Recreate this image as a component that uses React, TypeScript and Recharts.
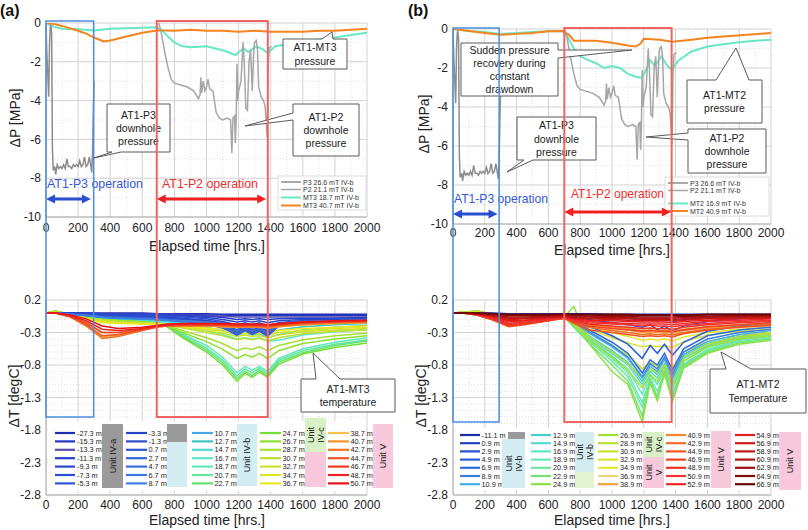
import React from 'react';
import { LineChart, Line, XAxis, YAxis, CartesianGrid, ReferenceLine } from 'recharts';

// ---- axes ----
const xMajor = [0, 200, 400, 600, 800, 1000, 1200, 1400, 1600, 1800, 2000];
const xMinor = [100, 300, 500, 700, 900, 1100, 1300, 1500, 1700, 1900];
const pTicks = [-10, -8, -6, -4, -2, 0];
const pMinor = [-9, -7, -5, -3, -1];
const tTicks = [-2.8, -2.3, -1.8, -1.3, -0.8, -0.3, 0.2];
const tMinor = [
  -2.7, -2.6, -2.5, -2.4, -2.2, -2.1, -2.0, -1.9, -1.7, -1.6, -1.5, -1.4, -1.2, -1.1, -1.0, -0.9,
  -0.7, -0.6, -0.5, -0.4, -0.2, -0.1, 0, 0.1,
];

// ---- pressure (MPa) ----
const p3Time = [0, 5, 17, 22, 27, 30, 35, 40, 45, 55, 60, 70, 80, 90, 100, 110, 120, 130, 140, 150, 160, 170, 180, 190, 200, 210, 220, 230, 240, 250, 260, 270, 280, 285, 290, 295, 300];
const p3Val = [0, -1.5, -3.8, -1.0, -0.2, -0.1, -0.5, -6.5, -7.6, -7.4, -7.8, -7.3, -7.5, -7.4, -7.5, -7.3, -7.5, -7.0, -7.4, -7.4, -7.5, -7.3, -7.4, -7.3, -7.4, -7.1, -7.4, -7.3, -6.9, -7.4, -7.3, -6.9, -7.4, -7.7, -6.7, -4.5, -3.0];
const p2Time = [700, 710, 720, 740, 760, 780, 800, 840, 880, 920, 950, 960, 965, 970, 980, 990, 1000, 1010, 1020, 1040, 1060, 1080, 1100, 1130, 1150, 1158, 1165, 1175, 1180, 1185, 1190, 1195, 1200, 1215, 1228, 1235, 1245, 1255, 1265, 1275, 1285, 1295, 1300, 1310, 1318, 1325, 1340, 1355, 1365, 1378, 1383, 1390, 1405];
const p2Val = [0, -0.2, -0.6, -1.5, -2.3, -2.9, -3.1, -3.2, -3.3, -3.5, -3.9, -3.7, -2.8, -3.6, -3.0, -3.5, -3.3, -2.9, -3.4, -3.5, -4.6, -4.9, -5.0, -4.9, -5.0, -6.7, -4.9, -4.8, -6.2, -4.9, -2.1, -4.0, -3.5, -3.0, -1.0, -2.0, -4.4, -4.5, -2.0, -1.4, -3.5, -1.3, -1.0, -0.9, -1.4, -3.3, -3.8, -4.0, -4.3, -5.9, -2.5, -1.3, -1.2];
const mt3LowTime = [0, 50, 100, 200, 300, 400, 500, 600, 690, 720, 760, 800, 850, 900, 1000, 1100, 1180, 1230, 1260, 1310, 1350, 1380, 1430, 1500, 1600, 1700, 1800, 1900, 2000];
const mt3LowVal = [0, -0.2, -0.3, -0.32, -0.38, -0.3, -0.27, -0.24, -0.22, -0.35, -0.7, -1.0, -1.2, -1.25, -1.2, -1.4, -1.65, -1.3, -1.5, -1.2, -1.35, -1.55, -1.2, -1.1, -0.95, -0.85, -0.75, -0.62, -0.5];
const mt3HighTime = [0, 50, 100, 200, 250, 300, 360, 400, 450, 500, 600, 700, 800, 900, 1000, 1100, 1200, 1300, 1400, 1500, 1600, 1700, 1800, 1900, 2000];
const mt3HighVal = [0, -0.05, -0.15, -0.4, -0.55, -0.75, -0.95, -0.9, -0.8, -0.7, -0.5, -0.38, -0.4, -0.35, -0.4, -0.4, -0.45, -0.4, -0.45, -0.45, -0.45, -0.4, -0.4, -0.35, -0.3];
const mt2LowTime = [0, 100, 200, 300, 400, 500, 600, 690, 720, 760, 800, 850, 900, 950, 1000, 1050, 1100, 1150, 1190, 1220, 1240, 1270, 1310, 1340, 1375, 1420, 1500, 1600, 1700, 1800, 1900, 2000];
const mt2LowVal = [0, -0.1, -0.15, -0.25, -0.2, -0.15, -0.12, -0.1, -0.4, -1.0, -1.4, -1.6, -1.75, -2.0, -1.9, -2.0, -2.3, -2.45, -2.5, -2.0, -1.6, -1.9, -1.4, -1.8, -2.1, -1.6, -1.15, -0.9, -0.78, -0.68, -0.6, -0.55];
const mt2HighTime = [0, 100, 200, 300, 400, 500, 600, 690, 730, 760, 900, 1000, 1100, 1150, 1180, 1200, 1300, 1380, 1500, 1600, 1700, 1850, 2000];
const mt2HighVal = [0, -0.1, -0.2, -0.3, -0.25, -0.2, -0.12, -0.1, -0.3, -0.6, -0.6, -0.7, -0.85, -0.9, -0.75, -0.5, -0.55, -0.65, -0.55, -0.45, -0.38, -0.3, -0.2];

// ---- temperature (degC) ----
const tempHours = [0, 60, 150, 250, 350, 450, 600, 700, 760, 850, 1000, 1100, 1190, 1240, 1285, 1330, 1380, 1450, 1600, 1800, 2000];

// AT1-MT3
const depthA1 = ['-27.3 m', '-15.3 m', '-13.3 m', '-11.3 m', '-9.3 m', '-7.3 m', '-5.3 m'];
const tempA1 = [
  [0, 0, 0, 0, 0, 0, 0, -0.01, -0.01, -0.01, -0.01, -0.02, -0.02, -0.02, -0.02, -0.02, -0.02, -0.02, -0.02, -0.02, -0.02],
  [0, 0, 0, 0, -0.01, -0.01, -0.01, -0.01, -0.02, -0.02, -0.03, -0.03, -0.04, -0.04, -0.04, -0.04, -0.04, -0.04, -0.04, -0.04, -0.04],
  [0, 0, 0, -0.01, -0.01, -0.02, -0.02, -0.02, -0.02, -0.03, -0.04, -0.05, -0.06, -0.06, -0.06, -0.06, -0.06, -0.06, -0.06, -0.06, -0.06],
  [0, 0, 0, -0.01, -0.02, -0.02, -0.02, -0.03, -0.03, -0.04, -0.05, -0.07, -0.1, -0.09, -0.1, -0.09, -0.1, -0.09, -0.08, -0.08, -0.07],
  [0, 0, -0.01, -0.01, -0.02, -0.03, -0.03, -0.03, -0.04, -0.05, -0.07, -0.1, -0.14, -0.12, -0.14, -0.12, -0.15, -0.12, -0.1, -0.09, -0.08],
  [0, 0, -0.01, -0.02, -0.03, -0.03, -0.04, -0.04, -0.05, -0.06, -0.09, -0.13, -0.18, -0.15, -0.18, -0.15, -0.2, -0.15, -0.12, -0.1, -0.09],
  [0, 0, -0.01, -0.02, -0.03, -0.04, -0.04, -0.05, -0.06, -0.08, -0.11, -0.15, -0.22, -0.18, -0.22, -0.18, -0.24, -0.17, -0.13, -0.11, -0.1],
];
const depthA2 = ['-3.3 m', '-1.3 m', '0.7 m', '2.7 m', '4.7 m', '6.7 m', '8.7 m'];
const tempA2 = [
  [0, 0, -0.01, -0.02, -0.03, -0.04, -0.05, -0.06, -0.07, -0.09, -0.12, -0.17, -0.26, -0.21, -0.26, -0.22, -0.28, -0.16, -0.12, -0.1, -0.09],
  [0, 0, -0.01, -0.02, -0.04, -0.05, -0.06, -0.07, -0.08, -0.1, -0.14, -0.2, -0.3, -0.24, -0.3, -0.25, -0.32, -0.18, -0.13, -0.11, -0.1],
  [0, 0, -0.02, -0.03, -0.05, -0.06, -0.07, -0.08, -0.09, -0.11, -0.16, -0.22, -0.34, -0.27, -0.33, -0.28, -0.36, -0.2, -0.14, -0.12, -0.1],
  [0, 0, -0.02, -0.04, -0.06, -0.07, -0.08, -0.09, -0.1, -0.12, -0.17, -0.23, -0.32, -0.26, -0.32, -0.27, -0.34, -0.2, -0.15, -0.12, -0.11],
  [0, 0, -0.02, -0.04, -0.06, -0.07, -0.09, -0.1, -0.11, -0.13, -0.16, -0.2, -0.27, -0.23, -0.27, -0.24, -0.3, -0.19, -0.15, -0.13, -0.12],
  [0, 0, -0.02, -0.04, -0.06, -0.08, -0.09, -0.1, -0.11, -0.12, -0.15, -0.18, -0.22, -0.2, -0.23, -0.2, -0.25, -0.17, -0.14, -0.12, -0.11],
  [0, 0, -0.02, -0.04, -0.07, -0.08, -0.09, -0.1, -0.11, -0.12, -0.14, -0.16, -0.2, -0.18, -0.2, -0.18, -0.22, -0.16, -0.13, -0.12, -0.11],
];
const depthA3 = ['10.7 m', '12.7 m', '14.7 m', '16.7 m', '18.7 m', '20.7 m', '22.7 m'];
const tempA3 = [
  [0, 0, -0.02, -0.05, -0.07, -0.08, -0.1, -0.11, -0.12, -0.13, -0.15, -0.18, -0.23, -0.21, -0.23, -0.21, -0.26, -0.2, -0.17, -0.15, -0.14],
  [0, 0.01, -0.02, -0.05, -0.08, -0.1, -0.11, -0.12, -0.13, -0.15, -0.18, -0.22, -0.28, -0.26, -0.28, -0.26, -0.32, -0.26, -0.21, -0.18, -0.16],
  [0, 0.01, -0.03, -0.06, -0.09, -0.11, -0.12, -0.13, -0.14, -0.17, -0.22, -0.27, -0.34, -0.31, -0.34, -0.32, -0.38, -0.33, -0.26, -0.22, -0.19],
  [0, 0.02, -0.03, -0.07, -0.1, -0.12, -0.13, -0.14, -0.16, -0.2, -0.27, -0.33, -0.4, -0.38, -0.4, -0.38, -0.43, -0.42, -0.34, -0.29, -0.25],
  [0, 0.02, -0.03, -0.07, -0.1, -0.12, -0.14, -0.15, -0.19, -0.32, -0.5, -0.68, -0.92, -0.82, -0.88, -0.82, -0.9, -0.7, -0.55, -0.45, -0.38],
  [0, 0.03, -0.03, -0.07, -0.1, -0.12, -0.14, -0.15, -0.2, -0.34, -0.54, -0.72, -0.97, -0.86, -0.92, -0.85, -0.94, -0.73, -0.58, -0.48, -0.41],
  [0, 0.03, -0.03, -0.07, -0.1, -0.12, -0.14, -0.16, -0.21, -0.36, -0.57, -0.76, -1.01, -0.9, -0.96, -0.88, -0.97, -0.76, -0.61, -0.5, -0.43],
];
const depthA4 = ['24.7 m', '26.7 m', '28.7 m', '30.7 m', '32.7 m', '34.7 m', '36.7 m'];
const tempA4 = [
  [0, 0.03, -0.03, -0.07, -0.1, -0.12, -0.14, -0.16, -0.22, -0.38, -0.6, -0.8, -1.05, -0.93, -0.99, -0.91, -0.99, -0.79, -0.63, -0.53, -0.46],
  [0, 0.03, -0.02, -0.07, -0.1, -0.12, -0.14, -0.16, -0.21, -0.3, -0.44, -0.56, -0.7, -0.64, -0.68, -0.62, -0.7, -0.58, -0.47, -0.4, -0.35],
  [0, 0.02, -0.02, -0.07, -0.1, -0.12, -0.14, -0.16, -0.2, -0.27, -0.38, -0.47, -0.58, -0.54, -0.56, -0.52, -0.58, -0.5, -0.41, -0.35, -0.31],
  [0, 0.02, -0.03, -0.08, -0.11, -0.13, -0.15, -0.16, -0.19, -0.23, -0.3, -0.35, -0.41, -0.39, -0.41, -0.39, -0.43, -0.38, -0.32, -0.28, -0.26],
  [0, 0.02, -0.03, -0.08, -0.12, -0.14, -0.16, -0.17, -0.19, -0.22, -0.27, -0.31, -0.36, -0.34, -0.36, -0.35, -0.38, -0.34, -0.29, -0.26, -0.24],
  [0, 0.01, -0.04, -0.09, -0.13, -0.15, -0.16, -0.17, -0.18, -0.21, -0.25, -0.28, -0.32, -0.31, -0.32, -0.31, -0.34, -0.3, -0.27, -0.24, -0.22],
  [0, 0.01, -0.04, -0.1, -0.15, -0.16, -0.17, -0.17, -0.18, -0.2, -0.23, -0.25, -0.28, -0.27, -0.28, -0.28, -0.3, -0.27, -0.24, -0.22, -0.2],
];
const depthA5 = ['38.7 m', '40.7 m', '42.7 m', '44.7 m', '46.7 m', '48.7 m', '50.7 m'];
const tempA5 = [
  [0, 0, -0.05, -0.15, -0.3, -0.3, -0.24, -0.2, -0.19, -0.19, -0.2, -0.21, -0.22, -0.22, -0.22, -0.22, -0.23, -0.21, -0.18, -0.16, -0.15],
  [0, 0, -0.06, -0.18, -0.36, -0.34, -0.26, -0.21, -0.2, -0.2, -0.2, -0.21, -0.22, -0.22, -0.22, -0.22, -0.23, -0.21, -0.18, -0.16, -0.15],
  [0, 0, -0.06, -0.2, -0.39, -0.36, -0.27, -0.21, -0.2, -0.2, -0.2, -0.2, -0.21, -0.21, -0.21, -0.21, -0.22, -0.2, -0.17, -0.15, -0.14],
  [0, 0, -0.06, -0.18, -0.35, -0.33, -0.26, -0.21, -0.2, -0.19, -0.19, -0.19, -0.2, -0.2, -0.2, -0.2, -0.21, -0.19, -0.16, -0.14, -0.13],
  [0, 0, -0.05, -0.15, -0.3, -0.3, -0.25, -0.2, -0.19, -0.18, -0.18, -0.18, -0.19, -0.19, -0.19, -0.19, -0.2, -0.18, -0.15, -0.13, -0.12],
  [0, 0, -0.04, -0.12, -0.25, -0.27, -0.24, -0.2, -0.18, -0.17, -0.17, -0.17, -0.18, -0.18, -0.18, -0.18, -0.19, -0.17, -0.14, -0.13, -0.12],
  [0, 0, -0.03, -0.09, -0.2, -0.24, -0.22, -0.19, -0.17, -0.16, -0.16, -0.16, -0.17, -0.17, -0.17, -0.17, -0.18, -0.16, -0.14, -0.12, -0.11],
];

// AT1-MT2
const depthB1 = ['-11.1 m', '0.9 m', '2.9 m', '4.9 m', '6.9 m', '8.9 m', '10.9 m'];
const tempB1 = [
  [0, 0, 0, 0, -0.01, -0.01, -0.01, -0.01, -0.01, -0.01, -0.02, -0.02, -0.02, -0.02, -0.02, -0.02, -0.02, -0.02, -0.02, -0.02, -0.02],
  [0, 0, 0, -0.01, -0.02, -0.02, -0.02, -0.02, -0.03, -0.05, -0.07, -0.08, -0.1, -0.09, -0.12, -0.09, -0.13, -0.1, -0.07, -0.05, -0.04],
  [0, 0, 0, -0.01, -0.02, -0.02, -0.02, -0.03, -0.05, -0.1, -0.15, -0.18, -0.22, -0.18, -0.26, -0.2, -0.28, -0.2, -0.13, -0.09, -0.07],
  [0, 0, 0, -0.01, -0.02, -0.03, -0.03, -0.04, -0.08, -0.2, -0.35, -0.48, -0.7, -0.5, -0.62, -0.48, -0.65, -0.45, -0.28, -0.2, -0.16],
  [0, 0, 0, -0.02, -0.03, -0.03, -0.04, -0.05, -0.1, -0.25, -0.45, -0.62, -0.92, -0.72, -0.8, -0.62, -0.88, -0.55, -0.35, -0.26, -0.22],
  [0, 0, -0.01, -0.02, -0.03, -0.04, -0.04, -0.06, -0.12, -0.28, -0.5, -0.68, -0.98, -0.78, -0.86, -0.68, -0.94, -0.6, -0.4, -0.3, -0.25],
  [0, 0, -0.01, -0.02, -0.03, -0.04, -0.05, -0.07, -0.14, -0.3, -0.52, -0.7, -1.0, -0.82, -0.9, -0.72, -0.98, -0.64, -0.44, -0.33, -0.27],
];
const depthB2 = ['12.9 m', '14.9 m', '16.9 m', '18.9 m', '20.9 m', '22.9 m', '24.9 m'];
const tempB2 = [
  [0, 0.01, 0.02, -0.02, -0.04, -0.05, -0.05, -0.06, -0.16, -0.34, -0.58, -0.76, -1.05, -0.86, -0.95, -0.78, -1.02, -0.67, -0.47, -0.36, -0.3],
  [0, 0.01, 0.02, -0.02, -0.04, -0.05, -0.05, -0.06, -0.17, -0.36, -0.62, -0.8, -1.1, -0.9, -1.0, -0.82, -1.08, -0.7, -0.5, -0.38, -0.32],
  [0, 0.01, 0.02, -0.02, -0.04, -0.05, -0.05, -0.06, -0.18, -0.38, -0.66, -0.86, -1.25, -0.95, -1.1, -0.88, -1.18, -0.74, -0.53, -0.4, -0.34],
  [0, 0.01, 0.02, -0.02, -0.04, -0.05, -0.05, -0.06, -0.19, -0.4, -0.7, -0.92, -1.38, -1.0, -1.2, -0.92, -1.25, -0.78, -0.56, -0.42, -0.36],
  [0, 0.01, 0.02, -0.02, -0.04, -0.05, -0.05, -0.06, -0.2, -0.42, -0.74, -0.98, -1.45, -1.02, -1.28, -0.95, -1.3, -0.8, -0.58, -0.44, -0.38],
  [0, 0.01, 0.03, -0.02, -0.04, -0.05, -0.05, -0.06, -0.22, -0.45, -0.8, -1.05, -1.58, -1.05, -1.32, -0.9, -1.33, -0.82, -0.6, -0.46, -0.4],
  [0, 0.01, 0.03, -0.02, -0.04, -0.05, -0.05, -0.06, 0.1, -0.45, -0.9, -1.1, -1.67, -1.08, -1.35, -0.92, -1.36, -0.85, -0.62, -0.48, -0.42],
];
const depthB3 = ['26.9 m', '28.9 m', '30.9 m', '32.9 m', '34.9 m', '36.9 m', '38.9 m'];
const tempB3 = [
  [0, 0.01, 0.03, -0.02, -0.05, -0.06, -0.06, -0.07, -0.18, -0.4, -0.68, -0.88, -1.15, -0.95, -1.05, -0.86, -1.12, -0.74, -0.52, -0.4, -0.35],
  [0, 0.01, 0.02, -0.02, -0.05, -0.06, -0.06, -0.07, -0.16, -0.35, -0.6, -0.78, -1.0, -0.86, -0.92, -0.8, -0.96, -0.68, -0.48, -0.37, -0.32],
  [0, 0.01, 0.02, -0.02, -0.05, -0.06, -0.06, -0.07, -0.15, -0.3, -0.5, -0.65, -0.86, -0.76, -0.82, -0.72, -0.84, -0.6, -0.44, -0.34, -0.3],
  [0, 0, 0.01, -0.03, -0.06, -0.06, -0.06, -0.07, -0.13, -0.24, -0.38, -0.46, -0.52, -0.5, -0.52, -0.5, -0.53, -0.44, -0.34, -0.28, -0.25],
  [0, 0, 0.01, -0.03, -0.06, -0.06, -0.06, -0.07, -0.12, -0.2, -0.3, -0.36, -0.42, -0.4, -0.42, -0.4, -0.43, -0.37, -0.3, -0.25, -0.22],
  [0, 0, 0, -0.03, -0.07, -0.07, -0.06, -0.07, -0.11, -0.18, -0.26, -0.3, -0.34, -0.33, -0.34, -0.33, -0.35, -0.31, -0.26, -0.22, -0.2],
  [0, 0, -0.01, -0.05, -0.1, -0.09, -0.07, -0.07, -0.1, -0.16, -0.22, -0.26, -0.3, -0.29, -0.3, -0.29, -0.31, -0.27, -0.23, -0.2, -0.18],
];
const depthB4 = ['40.9 m', '42.9 m', '44.9 m', '46.9 m', '48.9 m', '50.9 m', '52.9 m'];
const tempB4 = [
  [0, 0, -0.02, -0.08, -0.16, -0.14, -0.1, -0.07, -0.12, -0.18, -0.22, -0.24, -0.27, -0.26, -0.27, -0.26, -0.28, -0.25, -0.21, -0.18, -0.16],
  [0, 0, -0.03, -0.1, -0.19, -0.16, -0.11, -0.08, -0.14, -0.22, -0.27, -0.3, -0.33, -0.32, -0.33, -0.32, -0.34, -0.3, -0.25, -0.21, -0.18],
  [0, 0, -0.03, -0.11, -0.21, -0.18, -0.12, -0.08, -0.16, -0.26, -0.3, -0.33, -0.36, -0.35, -0.36, -0.35, -0.37, -0.32, -0.26, -0.22, -0.19],
  [0, 0, -0.03, -0.1, -0.2, -0.17, -0.12, -0.08, -0.14, -0.2, -0.24, -0.26, -0.28, -0.27, -0.28, -0.28, -0.29, -0.26, -0.21, -0.18, -0.15],
  [0, 0, -0.02, -0.09, -0.18, -0.16, -0.11, -0.07, -0.12, -0.17, -0.2, -0.22, -0.24, -0.23, -0.24, -0.24, -0.25, -0.22, -0.18, -0.15, -0.13],
  [0, 0, -0.02, -0.08, -0.16, -0.14, -0.1, -0.07, -0.11, -0.15, -0.17, -0.18, -0.2, -0.19, -0.2, -0.2, -0.21, -0.19, -0.16, -0.13, -0.11],
  [0, 0, -0.02, -0.07, -0.14, -0.12, -0.09, -0.06, -0.1, -0.13, -0.15, -0.16, -0.17, -0.17, -0.17, -0.17, -0.18, -0.16, -0.13, -0.11, -0.09],
];
const depthB5 = ['54.9 m', '56.9 m', '58.9 m', '60.9 m', '62.9 m', '64.9 m', '66.9 m'];
const tempB5 = [
  [0, 0, -0.02, -0.06, -0.12, -0.11, -0.08, -0.06, -0.09, -0.11, -0.12, -0.13, -0.14, -0.14, -0.14, -0.14, -0.15, -0.13, -0.11, -0.09, -0.08],
  [0, 0, -0.01, -0.05, -0.1, -0.09, -0.07, -0.05, -0.08, -0.09, -0.1, -0.11, -0.12, -0.11, -0.12, -0.11, -0.12, -0.11, -0.09, -0.08, -0.07],
  [0, 0, -0.01, -0.04, -0.08, -0.08, -0.06, -0.05, -0.07, -0.08, -0.09, -0.09, -0.1, -0.1, -0.1, -0.1, -0.1, -0.09, -0.08, -0.07, -0.06],
  [0, 0, -0.01, -0.03, -0.06, -0.06, -0.05, -0.04, -0.06, -0.06, -0.07, -0.07, -0.08, -0.08, -0.08, -0.08, -0.08, -0.07, -0.06, -0.05, -0.05],
  [0, 0, -0.01, -0.02, -0.04, -0.04, -0.04, -0.03, -0.04, -0.05, -0.05, -0.05, -0.06, -0.06, -0.06, -0.06, -0.06, -0.05, -0.05, -0.04, -0.04],
  [0, 0, 0, -0.01, -0.03, -0.03, -0.03, -0.02, -0.03, -0.03, -0.04, -0.04, -0.04, -0.04, -0.04, -0.04, -0.04, -0.04, -0.03, -0.03, -0.03],
  [0, 0, 0, -0.01, -0.02, -0.02, -0.02, -0.02, -0.02, -0.02, -0.02, -0.02, -0.03, -0.03, -0.03, -0.03, -0.03, -0.03, -0.02, -0.02, -0.02],
];

// ---- colours ----
const colorsA1 = ['#1f2db0', '#2236c4', '#5a4cb0', '#263ec8', '#2a46cc', '#2c4ed2', '#2f56d6'];
const colorsA2 = ['#2a44c8', '#2c4ccc', '#3056d2', '#3462d8', '#366cdc', '#3a76e0', '#3e80e2'];
const colorsA3 = ['#4aa6e0', '#3cc4c8', '#52d6d0', '#5ee6cc', '#60e8b8', '#62e6a0', '#64e070'];
const colorsA4 = ['#72e038', '#8ee030', '#a6e030', '#bce030', '#cce22c', '#dce424', '#eaea22'];
const colorsA5 = ['#f7c050', '#f59428', '#f27422', '#f05622', '#f03c20', '#ee2222', '#e61414'];
const colorsB1 = ['#1a2ca8', '#2040c0', '#2450cc', '#2a5ed6', '#306cda', '#3a7ede', '#44b0e2'];
const colorsB2 = ['#48cccc', '#56dccc', '#60e6c6', '#66e8b8', '#6ce8a0', '#72e274', '#8ae048'];
const colorsB3 = ['#a0e030', '#b6e030', '#c8e230', '#d8e630', '#e6e636', '#f0d478', '#f5a038'];
const colorsB4 = ['#f58430', '#f26c28', '#f05422', '#ef4220', '#ec3420', '#f03232', '#ee2828'];
const colorsB5 = ['#e41e1e', '#d21a1a', '#c01616', '#b01212', '#a00e0e', '#820a0a', '#6a0606'];

const GRAY1 = '#8c8c8c';
const GRAY2 = '#a6a6a6';
const TEAL = '#66e8c4';
const ORANGE = '#f5841f';

const toPoints = (t: number[], v: number[]) => t.map((x, i) => ({ t: x, v: v[i] }));

type Group = { key: string; series: number[][]; colors: string[] };

const buildRows = (groups: Group[]) =>
  tempHours.map((t, i) => {
    const row: Record<string, number> = { t };
    groups.forEach((g) => g.series.forEach((s, j) => (row[`${g.key}${j}`] = s[i])));
    return row;
  });

const groupsA: Group[] = [
  { key: 'a3_', series: tempA3, colors: colorsA3 },
  { key: 'a4_', series: tempA4, colors: colorsA4 },
  { key: 'a1_', series: tempA1, colors: colorsA1 },
  { key: 'a2_', series: tempA2, colors: colorsA2 },
  { key: 'a5_', series: tempA5, colors: colorsA5 },
];
const groupsB: Group[] = [
  { key: 'b2_', series: tempB2, colors: colorsB2 },
  { key: 'b3_', series: tempB3, colors: colorsB3 },
  { key: 'b1_', series: tempB1, colors: colorsB1 },
  { key: 'b4_', series: tempB4, colors: colorsB4 },
  { key: 'b5_', series: tempB5, colors: colorsB5 },
];
const rowsA = buildRows(groupsA);
const rowsB = buildRows(groupsB);

type PanelProps = {
  left: number;
  top: number;
  height: number;
  margin: { top: number; right: number; bottom: number; left: number };
  yDomain: [number, number];
  yTicks: number[];
  yMinor: number[];
  xTickGap?: number;
  data?: Record<string, number>[];
  children: React.ReactNode;
};

function Panel({ left, top, height, margin, yDomain, yTicks, yMinor, xTickGap = 6, data, children }: PanelProps) {
  return (
    <div style={{ position: 'absolute', left, top }}>
      <LineChart width={404} height={height} data={data} margin={margin}>
        <CartesianGrid stroke="#d2d2d2" />
        {xMinor.map((v) => (
          <ReferenceLine key={`vx${v}`} x={v} stroke="#e0e0e0" strokeDasharray="1 2" />
        ))}
        {yMinor.map((v) => (
          <ReferenceLine key={`hy${v}`} y={v} stroke="#e0e0e0" strokeDasharray="1 2" />
        ))}
        <XAxis
          dataKey="t"
          type="number"
          domain={[0, 2000]}
          ticks={xMajor}
          interval={0}
          allowDataOverflow
          tickSize={0}
          tickMargin={xTickGap}
          axisLine={{ stroke: '#b0b0b0' }}
          tick={{ fill: '#222', fontSize: 12 }}
        />
        <YAxis
          type="number"
          domain={yDomain}
          ticks={yTicks}
          interval={0}
          allowDataOverflow
          width={40}
          tickSize={0}
          tickMargin={5}
          axisLine={{ stroke: '#b0b0b0' }}
          tick={{ fill: '#222', fontSize: 12 }}
        />
        {children}
      </LineChart>
    </div>
  );
}

const pressureLine = (key: string, t: number[], v: number[], color: string, w: number) => (
  <Line
    key={key}
    data={toPoints(t, v)}
    dataKey="v"
    type="linear"
    stroke={color}
    strokeWidth={w}
    dot={false}
    isAnimationActive={false}
  />
);

const tempLines = (groups: Group[]) =>
  groups.flatMap((g) =>
    g.series.map((_, j) => (
      <Line
        key={`${g.key}${j}`}
        dataKey={`${g.key}${j}`}
        type="linear"
        stroke={g.colors[j]}
        strokeWidth={1.5}
        dot={false}
        isAnimationActive={false}
      />
    ))
  );

// ---- overlay helpers ----
const xa = (h: number) => 46 + (h * 321) / 2000;
const xb = (h: number) => 453 + (h * 318) / 2000;

type CalloutProps = {
  x: number;
  y: number;
  w: number;
  h: number;
  side: 'top' | 'bottom' | 'left' | 'right';
  base: [number, number];
  tip: [number, number];
  lines: string[];
};

function Callout({ x, y, w, h, side, base, tip, lines }: CalloutProps) {
  const [a, b] = base;
  const pts: number[][] = [[x, y]];
  if (side === 'top') pts.push([a, y], tip, [b, y]);
  pts.push([x + w, y]);
  if (side === 'right') pts.push([x + w, a], tip, [x + w, b]);
  pts.push([x + w, y + h]);
  if (side === 'bottom') pts.push([b, y + h], tip, [a, y + h]);
  pts.push([x, y + h]);
  if (side === 'left') pts.push([x, b], tip, [x, a]);
  const lh = 13.3;
  const y0 = y + h / 2 - ((lines.length - 1) * lh) / 2;
  return (
    <g>
      <polygon points={pts.map((p) => p.join(',')).join(' ')} fill="#fff" stroke="#5a5a5a" strokeWidth={1} />
      {lines.map((s, i) => (
        <text key={s} x={x + w / 2} y={y0 + i * lh} textAnchor="middle" dominantBaseline="central" fontSize={10.5} fill="#222">
          {s}
        </text>
      ))}
    </g>
  );
}

function DoubleArrow({ x1, x2, y, color }: { x1: number; x2: number; y: number; color: string }) {
  return (
    <g fill={color}>
      <line x1={x1 + 6} x2={x2 - 6} y1={y} y2={y} stroke={color} strokeWidth={3} />
      <polygon points={`${x1},${y} ${x1 + 9},${y - 4.5} ${x1 + 9},${y + 4.5}`} />
      <polygon points={`${x2},${y} ${x2 - 9},${y - 4.5} ${x2 - 9},${y + 4.5}`} />
    </g>
  );
}

function LegendColumn({ x1, x2, tx, y0, dy, labels, colors }: { x1: number; x2: number; tx: number; y0: number; dy: number; labels: string[]; colors: string[] }) {
  return (
    <g>
      {labels.map((l, i) => (
        <g key={l}>
          <line x1={x1} x2={x2} y1={y0 + i * dy} y2={y0 + i * dy} stroke={colors[i]} strokeWidth={2.2} />
          <text x={tx} y={y0 + i * dy} dominantBaseline="central" fontSize={7.3} fill="#222">
            {l}
          </text>
        </g>
      ))}
    </g>
  );
}

function UnitBox({ x, y, w, h, fill, lines }: { x: number; y: number; w: number; h: number; fill: string; lines?: string[] }) {
  const cx = x + w / 2;
  const cy = y + h / 2;
  const n = lines ? lines.length : 0;
  return (
    <g>
      <rect x={x} y={y} width={w} height={h} fill={fill} />
      {lines &&
        lines.map((s, i) => {
          const lx = cx + (i - (n - 1) / 2) * 10;
          return (
            <text key={s + i} x={lx} y={cy} transform={`rotate(-90 ${lx} ${cy})`} textAnchor="middle" dominantBaseline="central" fontSize={9} fill="#222">
              {s}
            </text>
          );
        })}
    </g>
  );
}

function TopLegend({ x1, x2, tx, ys, labels, colors, box }: { x1: number; x2: number; tx: number; ys: number[]; labels: string[]; colors: string[]; box: number[] }) {
  return (
    <g>
      <rect x={box[0]} y={box[1]} width={box[2]} height={box[3]} fill="#fff" stroke="#dcdcdc" />
      {labels.map((l, i) => (
        <g key={l}>
          <line x1={x1} x2={x2} y1={ys[i]} y2={ys[i]} stroke={colors[i]} strokeWidth={i > 1 ? 2 : 1.5} />
          <text x={tx} y={ys[i]} dominantBaseline="central" fontSize={7} fill="#333">
            {l}
          </text>
        </g>
      ))}
    </g>
  );
}

function Overlay() {
  const rowDyA = 8.4;
  const rowDyB = 8.2;
  return (
    <svg width={808} height={530} style={{ position: 'absolute', left: 0, top: 0, pointerEvents: 'none' }}>
      {/* panel letters */}
      <text x={0} y={16} fontSize={16} fontWeight="bold" fill="#111">(a)</text>
      <text x={408} y={16} fontSize={16} fontWeight="bold" fill="#111">(b)</text>

      {/* axis titles */}
      <text x={15} y={118} transform="rotate(-90 15 118)" textAnchor="middle" dominantBaseline="central" fontSize={14} fill="#222">ΔP [MPa]</text>
      <text x={424} y={124} transform="rotate(-90 424 124)" textAnchor="middle" dominantBaseline="central" fontSize={14} fill="#222">ΔP [MPa]</text>
      <text x={207} y={246} textAnchor="middle" dominantBaseline="central" fontSize={14} fill="#222">Elapsed time [hrs.]</text>
      <text x={612} y={250} textAnchor="middle" dominantBaseline="central" fontSize={14} fill="#222">Elapsed time [hrs.]</text>
      <text x={14} y={396} transform="rotate(-90 14 396)" textAnchor="middle" dominantBaseline="central" fontSize={14} fill="#222">ΔT [degC]</text>
      <text x={421} y={396} transform="rotate(-90 421 396)" textAnchor="middle" dominantBaseline="central" fontSize={14} fill="#222">ΔT [degC]</text>
      <text x={207} y={520} textAnchor="middle" dominantBaseline="central" fontSize={14} fill="#222">Elapsed time [hrs.]</text>
      <text x={612} y={520} textAnchor="middle" dominantBaseline="central" fontSize={14} fill="#222">Elapsed time [hrs.]</text>

      {/* top legends */}
      <TopLegend x1={281} x2={301} tx={303} ys={[182, 189.5, 197.5, 205.5]} box={[278, 176, 88, 34]}
        labels={['P3 26.6 mT IV-b', 'P2 21.1 mT IV-b', 'MT3 18.7 mT IV-b', 'MT3 40.7 mT IV-b']}
        colors={[GRAY1, GRAY2, TEAL, ORANGE]} />
      <TopLegend x1={668} x2={688} tx={690} ys={[183, 190.5, 203.5, 211]} box={[665, 177, 104, 39]}
        labels={['P3 26.6 mT IV-b', 'P2 21.1 mT IV-b', 'MT2 16.9 mT IV-b', 'MT2 40.9 mT IV-b']}
        colors={[GRAY1, GRAY2, TEAL, ORANGE]} />

      {/* operation labels and arrows */}
      <text x={47} y={183} dominantBaseline="central" fontSize={13} fill="#3558d6" textLength={96} lengthAdjust="spacingAndGlyphs">AT1-P3 operation</text>
      <text x={162} y={183} dominantBaseline="central" fontSize={13} fill="#f03030" textLength={96} lengthAdjust="spacingAndGlyphs">AT1-P2 operation</text>
      <DoubleArrow x1={xa(0)} x2={xa(280)} y={199} color="#2a4ed0" />
      <DoubleArrow x1={xa(690)} x2={xa(1372)} y={199} color="#f02020" />
      <text x={454} y={198} dominantBaseline="central" fontSize={13} fill="#3558d6" textLength={94} lengthAdjust="spacingAndGlyphs">AT1-P3 operation</text>
      <text x={571} y={193} dominantBaseline="central" fontSize={13} fill="#f03030" textLength={93} lengthAdjust="spacingAndGlyphs">AT1-P2 operation</text>
      <DoubleArrow x1={xb(0)} x2={xb(280)} y={214} color="#2a4ed0" />
      <DoubleArrow x1={xb(700)} x2={xb(1370)} y={212} color="#f02020" />

      {/* callouts */}
      <Callout x={283} y={39} w={64} h={30} side="top" base={[322, 333]} tip={[332, 32]} lines={['AT1-MT3', 'pressure']} />
      <Callout x={107} y={104} w={63} h={48} side="bottom" base={[112, 121]} tip={[94, 158]} lines={['AT1-P3', 'downhole', 'pressure']} />
      <Callout x={293} y={104} w={66} h={52} side="left" base={[113, 120]} tip={[245, 126]} lines={['AT1-P2', 'downhole', 'pressure']} />
      <Callout x={461} y={43} w={97} h={53} side="right" base={[50, 58]} tip={[632, 50]} lines={['Sudden pressure', 'recovery during', 'constant', 'drawdown']} />
      <Callout x={517} y={117} w={79} h={43} side="bottom" base={[524, 533]} tip={[507, 172]} lines={['AT1-P3', 'downhole', 'pressure']} />
      <Callout x={687} y={80} w={75} h={43} side="top" base={[716, 749]} tip={[736, 48]} lines={['AT1-MT2', 'pressure']} />
      <Callout x={688} y={129} w={78} h={44} side="left" base={[133, 140]} tip={[646, 137]} lines={['AT1-P2', 'downhole', 'pressure']} />
      <Callout x={301} y={379} w={94} h={33} side="top" base={[316, 340]} tip={[313, 353]} lines={['AT1-MT3', 'temperature']} />
      <Callout x={710} y={369} w={96} h={44} side="top" base={[726, 751]} tip={[721, 352]} lines={['AT1-MT2', 'Temperature']} />

      {/* operation windows */}
      <rect x={xa(0)} y={21} width={xa(297) - xa(0)} height={396} fill="none" stroke="#4a8fe0" strokeWidth={1.5} />
      <rect x={xa(690)} y={21} width={xa(1382) - xa(690)} height={396} fill="none" stroke="#f06464" strokeWidth={2} />
      <rect x={xb(0)} y={28} width={xb(290) - xb(0)} height={394} fill="none" stroke="#4a8fe0" strokeWidth={1.5} />
      <rect x={xb(700)} y={28} width={xb(1375) - xb(700)} height={394} fill="none" stroke="#f06464" strokeWidth={2} />

      {/* temperature legend (a) */}
      <rect x={48} y={421} width={318} height={70} fill="#fff" />
      <LegendColumn x1={55} x2={75} tx={77} y0={433} dy={rowDyA} labels={depthA1} colors={colorsA1} />
      <UnitBox x={102} y={424} w={21} h={64} fill="#9a9a9a" lines={['Unit IV-a']} />
      <LegendColumn x1={126} x2={147} tx={148.5} y0={433} dy={rowDyA} labels={depthA2} colors={colorsA2} />
      <UnitBox x={167} y={424} w={20} h={18} fill="#9a9a9a" />
      <UnitBox x={167} y={442} w={20} h={45} fill="#d3edf2" />
      <LegendColumn x1={192} x2={213} tx={214.5} y0={433} dy={rowDyA} labels={depthA3} colors={colorsA3} />
      <UnitBox x={237} y={424} w={20} h={62} fill="#d3edf2" lines={['Unit IV-b']} />
      <LegendColumn x1={260} x2={281} tx={282.5} y0={433} dy={rowDyA} labels={depthA4} colors={colorsA4} />
      <UnitBox x={305} y={418} w={21} h={34} fill="#d8f0c6" lines={['Unit', 'IV-c']} />
      <UnitBox x={305} y={452} w={21} h={35} fill="#f7c9da" />
      <LegendColumn x1={328} x2={349} tx={350.5} y0={433} dy={rowDyA} labels={depthA5} colors={colorsA5} />
      <UnitBox x={373} y={424} w={20} h={64} fill="#f7c9da" lines={['Unit V']} />

      {/* temperature legend (b) */}
      <rect x={455} y={428} width={315} height={62} fill="#fff" />
      <LegendColumn x1={460} x2={480} tx={481.5} y0={435} dy={rowDyB} labels={depthB1} colors={colorsB1} />
      <UnitBox x={502} y={439} w={23} h={49} fill="#d3edf2" lines={['Unit', 'IV-b']} />
      <UnitBox x={508} y={432} w={17} h={7} fill="#9a9a9a" />
      <LegendColumn x1={531} x2={551} tx={553} y0={435} dy={rowDyB} labels={depthB2} colors={colorsB2} />
      <UnitBox x={575} y={432} w={19} h={40} fill="#d3edf2" lines={['Unit', 'IV-b']} />
      <UnitBox x={575} y={472} w={19} h={16} fill="#e2f3cf" />
      <LegendColumn x1={598} x2={618} tx={620} y0={435} dy={rowDyB} labels={depthB3} colors={colorsB3} />
      <UnitBox x={643} y={432} w={21} h={25} fill="#d8f0c6" lines={['Unit', 'IV-c']} />
      <UnitBox x={643} y={457} w={21} h={31} fill="#f7c9da" lines={['Unit', 'V']} />
      <LegendColumn x1={666} x2={686} tx={687.5} y0={435} dy={rowDyB} labels={depthB4} colors={colorsB4} />
      <UnitBox x={711} y={431} w={20} h={57} fill="#f7c9da" lines={['Unit V']} />
      <LegendColumn x1={735} x2={755} tx={756.5} y0={435} dy={rowDyB} labels={depthB5} colors={colorsB5} />
      <UnitBox x={779} y={432} w={22} h={58} fill="#f7c9da" lines={['Unit V']} />
    </svg>
  );
}

export default function App() {
  return (
    <div
      style={{
        position: 'absolute',
        left: 0,
        top: 0,
        width: 808,
        height: 530,
        background: '#fff',
        overflow: 'hidden',
        fontFamily: '"Liberation Sans", Arial, sans-serif',
      }}
    >
      <Panel left={0} top={0} height={265} margin={{ top: 23, right: 37, bottom: 18, left: 6 }} yDomain={[-10, 0]} yTicks={pTicks} yMinor={pMinor}>
        {pressureLine('mt3low', mt3LowTime, mt3LowVal, TEAL, 2)}
        {pressureLine('mt3high', mt3HighTime, mt3HighVal, ORANGE, 2)}
        {pressureLine('p3', p3Time, p3Val, GRAY1, 1.5)}
        {pressureLine('p2', p2Time, p2Val, GRAY2, 1.5)}
      </Panel>
      <Panel left={404} top={0} height={265} margin={{ top: 29, right: 37, bottom: 11, left: 9 }} yDomain={[-10, 0]} yTicks={pTicks} yMinor={pMinor} xTickGap={4}>
        {pressureLine('mt2low', mt2LowTime, mt2LowVal, TEAL, 2)}
        {pressureLine('mt2high', mt2HighTime, mt2HighVal, ORANGE, 2)}
        {pressureLine('p3', p3Time, p3Val, GRAY1, 1.5)}
        {pressureLine('p2', p2Time, p2Val, GRAY2, 1.5)}
      </Panel>
      <Panel left={0} top={270} height={260} margin={{ top: 30, right: 37, bottom: 5, left: 6 }} yDomain={[-2.8, 0.2]} yTicks={tTicks} yMinor={tMinor} xTickGap={5} data={rowsA}>
        {tempLines(groupsA)}
      </Panel>
      <Panel left={404} top={270} height={260} margin={{ top: 30, right: 37, bottom: 5, left: 9 }} yDomain={[-2.8, 0.2]} yTicks={tTicks} yMinor={tMinor} xTickGap={5} data={rowsB}>
        {tempLines(groupsB)}
      </Panel>
      <Overlay />
    </div>
  );
}
